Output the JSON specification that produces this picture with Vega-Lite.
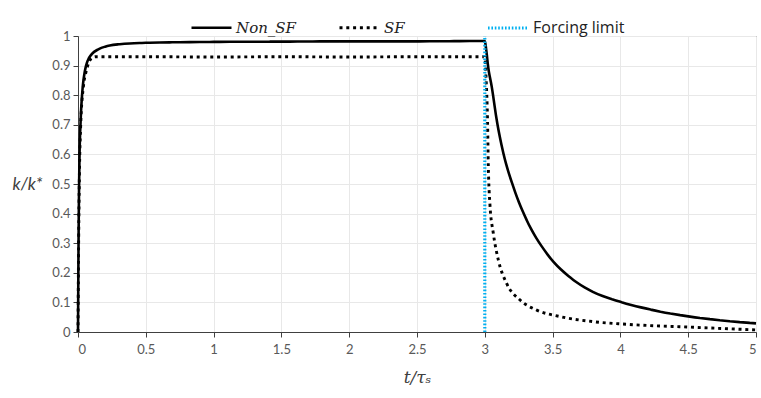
{
  "$schema": "https://vega.github.io/schema/vega-lite/v6.json",
  "width": 678,
  "height": 296,
  "autosize": {"type": "none"},
  "padding": {"left": 78, "top": 36, "right": 5, "bottom": 66},
  "background": "white",
  "config": {
    "view": {"stroke": "#404040", "strokeWidth": 1},
    "axis": {
      "labelFont": "Lato", "labelFontSize": 13, "labelColor": "#595959",
      "domainColor": "#404040", "tickColor": "#404040", "tickSize": 5,
      "gridColor": "#E8E8E8", "gridWidth": 1
    }
  },
  "data": {
    "values": [
      {"t": 0, "k": 0, "series": "Non_SF"},
      {"t": 0.005, "k": 0.36, "series": "Non_SF"},
      {"t": 0.01, "k": 0.56, "series": "Non_SF"},
      {"t": 0.02, "k": 0.72, "series": "Non_SF"},
      {"t": 0.03, "k": 0.8, "series": "Non_SF"},
      {"t": 0.05, "k": 0.88, "series": "Non_SF"},
      {"t": 0.07, "k": 0.915, "series": "Non_SF"},
      {"t": 0.1, "k": 0.938, "series": "Non_SF"},
      {"t": 0.15, "k": 0.955, "series": "Non_SF"},
      {"t": 0.2, "k": 0.964, "series": "Non_SF"},
      {"t": 0.3, "k": 0.972, "series": "Non_SF"},
      {"t": 0.5, "k": 0.977, "series": "Non_SF"},
      {"t": 0.75, "k": 0.979, "series": "Non_SF"},
      {"t": 1, "k": 0.98, "series": "Non_SF"},
      {"t": 1.5, "k": 0.981, "series": "Non_SF"},
      {"t": 2, "k": 0.982, "series": "Non_SF"},
      {"t": 2.5, "k": 0.982, "series": "Non_SF"},
      {"t": 3, "k": 0.983, "series": "Non_SF"},
      {"t": 3.01, "k": 0.955, "series": "Non_SF"},
      {"t": 3.025, "k": 0.895, "series": "Non_SF"},
      {"t": 3.051, "k": 0.829, "series": "Non_SF"},
      {"t": 3.088, "k": 0.716, "series": "Non_SF"},
      {"t": 3.137, "k": 0.604, "series": "Non_SF"},
      {"t": 3.21, "k": 0.491, "series": "Non_SF"},
      {"t": 3.309, "k": 0.378, "series": "Non_SF"},
      {"t": 3.456, "k": 0.266, "series": "Non_SF"},
      {"t": 3.653, "k": 0.176, "series": "Non_SF"},
      {"t": 3.8, "k": 0.135, "series": "Non_SF"},
      {"t": 4.0, "k": 0.102, "series": "Non_SF"},
      {"t": 4.25, "k": 0.073, "series": "Non_SF"},
      {"t": 4.513, "k": 0.052, "series": "Non_SF"},
      {"t": 4.75, "k": 0.039, "series": "Non_SF"},
      {"t": 5.0, "k": 0.029, "series": "Non_SF"},
      {"t": 0, "k": 0, "series": "SF"},
      {"t": 0.005, "k": 0.32, "series": "SF"},
      {"t": 0.01, "k": 0.52, "series": "SF"},
      {"t": 0.02, "k": 0.7, "series": "SF"},
      {"t": 0.04, "k": 0.83, "series": "SF"},
      {"t": 0.06, "k": 0.88, "series": "SF"},
      {"t": 0.08, "k": 0.91, "series": "SF"},
      {"t": 0.1, "k": 0.925, "series": "SF"},
      {"t": 0.13, "k": 0.93, "series": "SF"},
      {"t": 0.5, "k": 0.93, "series": "SF"},
      {"t": 1, "k": 0.929, "series": "SF"},
      {"t": 1.5, "k": 0.93, "series": "SF"},
      {"t": 2, "k": 0.929, "series": "SF"},
      {"t": 2.5, "k": 0.93, "series": "SF"},
      {"t": 3, "k": 0.93, "series": "SF"},
      {"t": 3.01, "k": 0.85, "series": "SF"},
      {"t": 3.02, "k": 0.716, "series": "SF"},
      {"t": 3.026, "k": 0.56, "series": "SF"},
      {"t": 3.038, "k": 0.43, "series": "SF"},
      {"t": 3.063, "k": 0.333, "series": "SF"},
      {"t": 3.1, "k": 0.243, "series": "SF"},
      {"t": 3.161, "k": 0.164, "series": "SF"},
      {"t": 3.26, "k": 0.108, "series": "SF"},
      {"t": 3.383, "k": 0.074, "series": "SF"},
      {"t": 3.555, "k": 0.052, "series": "SF"},
      {"t": 3.8, "k": 0.035, "series": "SF"},
      {"t": 4.046, "k": 0.026, "series": "SF"},
      {"t": 4.538, "k": 0.016, "series": "SF"},
      {"t": 5.0, "k": 0.007, "series": "SF"},
      {"t": 3, "k": 0, "series": "Forcing limit"},
      {"t": 3, "k": 1, "series": "Forcing limit"}
    ]
  },
  "mark": {"type": "line", "interpolate": "monotone", "strokeCap": "butt", "strokeJoin": "round"},
  "encoding": {
    "x": {
      "field": "t", "type": "quantitative",
      "scale": {"domain": [0, 5], "nice": false, "zero": false},
      "axis": {
        "values": [0, 0.5, 1, 1.5, 2, 2.5, 3, 3.5, 4, 4.5, 5],
        "format": "~g", "title": "t/τₛ",
        "titleFont": "DejaVu Serif", "titleFontStyle": "italic", "titleFontWeight": "normal",
        "titleFontSize": 17, "titleColor": "#404040", "titleY": 45, "titleBaseline": "middle",
        "labelPadding": 6
      }
    },
    "y": {
      "field": "k", "type": "quantitative",
      "scale": {"domain": [0, 1], "nice": false},
      "axis": {
        "values": [0, 0.1, 0.2, 0.3, 0.4, 0.5, 0.6, 0.7, 0.8, 0.9, 1],
        "format": "~g", "title": "k/k*",
        "titleFont": "Lato", "titleFontStyle": "italic", "titleFontWeight": "normal",
        "titleFontSize": 17, "titleColor": "#404040",
        "titleAngle": 0, "titleAlign": "center", "titleBaseline": "middle",
        "titleX": -51, "titleY": 148, "labelPadding": 3
      }
    },
    "color": {
      "field": "series", "type": "nominal",
      "scale": {"domain": ["Non_SF", "SF", "Forcing limit"], "range": ["#000000", "#000000", "#00B0F0"]},
      "legend": {
        "title": null, "orient": "none", "direction": "horizontal",
        "legendX": 112, "legendY": -30, "padding": 0,
        "gridAlign": "all", "columnPadding": 4,
        "symbolType": "stroke", "symbolSize": 1600,
        "labelFontSize": 15, "labelColor": "#222222", "labelOffset": 3,
        "encode": {
          "labels": {
            "update": {
              "fontStyle": {"signal": "datum.value === 'Forcing limit' ? 'normal' : 'italic'"},
              "font": {"signal": "datum.value === 'Forcing limit' ? 'Open Sans' : 'DejaVu Serif'"},
              "fontSize": {"signal": "datum.value === 'Forcing limit' ? 16 : 15"}
            }
          }
        }
      }
    },
    "strokeDash": {
      "field": "series", "type": "nominal",
      "scale": {"domain": ["Non_SF", "SF", "Forcing limit"], "range": [[10, 0], [3, 3.8], [1.6, 1.8]]}
    },
    "strokeWidth": {
      "field": "series", "type": "nominal",
      "scale": {"domain": ["Non_SF", "SF", "Forcing limit"], "range": [2.6, 3.2, 1.6]}
    }
  }
}
